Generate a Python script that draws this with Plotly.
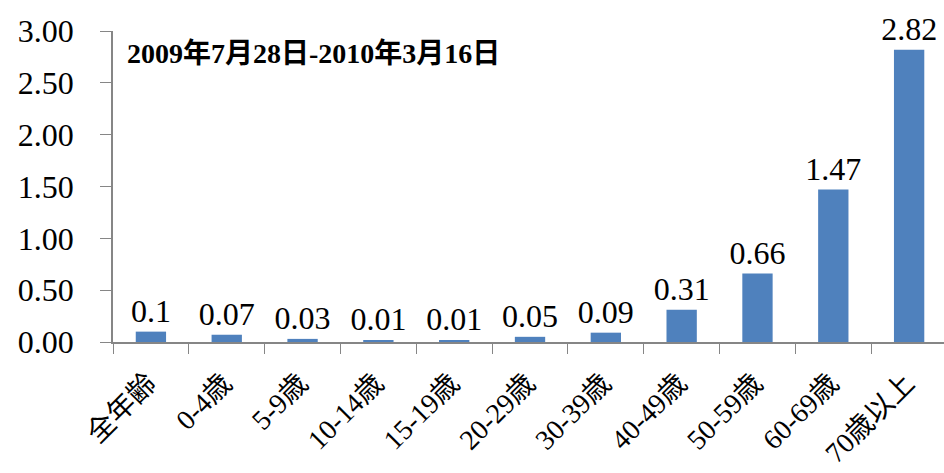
import plotly.graph_objects as go

categories = ["全年齢", "0-4歳", "5-9歳", "10-14歳", "15-19歳", "20-29歳",
              "30-39歳", "40-49歳", "50-59歳", "60-69歳", "70歳以上"]
values = [0.1, 0.07, 0.03, 0.01, 0.01, 0.05, 0.09, 0.31, 0.66, 1.47, 2.82]
value_labels = ["0.1", "0.07", "0.03", "0.01", "0.01", "0.05", "0.09",
                "0.31", "0.66", "1.47", "2.82"]
y_ticks = [0, 0.5, 1.0, 1.5, 2.0, 2.5, 3.0]
y_tick_labels = ["0.00", "0.50", "1.00", "1.50", "2.00", "2.50", "3.00"]
period_note = "2009年7月28日-2010年3月16日"

FONT = "Liberation Serif, Noto Sans CJK JP, serif"
AXIS_COLOR = "#868686"

fig = go.Figure()
fig.add_trace(go.Bar(
    x=categories, y=values,
    text=value_labels, textposition="outside", constraintext="none",
    textfont=dict(family=FONT, size=32, color="#000000"),
    marker=dict(color="#4F81BD", line=dict(width=0)),
    width=0.4, cliponaxis=False, hoverinfo="skip",
))

fig.update_layout(
    width=944, height=473,
    margin=dict(l=113, r=0, t=31, b=131, autoexpand=False),
    plot_bgcolor="white", paper_bgcolor="white",
    showlegend=False,
    font=dict(family=FONT, color="#000000"),
    xaxis=dict(
        range=[-0.5, 10.46], showline=True, linecolor=AXIS_COLOR, linewidth=1.5,
        ticks="outside", tickson="boundaries", ticklen=10, tickcolor=AXIS_COLOR,
        tickangle=-45, tickfont=dict(family=FONT, size=28, color="#000000"),
        showgrid=False, zeroline=False, ticklabelstandoff=12, ticklabelshift=-3,
        automargin=False,
    ),
    yaxis=dict(
        range=[0, 3.0], showline=True, linecolor=AXIS_COLOR, linewidth=1.5,
        ticks="outside", ticklen=11, tickcolor=AXIS_COLOR,
        tickvals=y_ticks, ticktext=y_tick_labels,
        tickfont=dict(family=FONT, size=32, color="#000000"),
        showgrid=False, zeroline=False, ticklabelstandoff=20, automargin=False,
    ),
    annotations=[dict(
        text="<b>" + period_note + "</b>", xref="paper", yref="paper",
        x=0.015, y=0.929, xanchor="left", yanchor="middle", showarrow=False,
        font=dict(family=FONT, size=28, color="#000000"),
    )],
)

fig.write_html(
    "out.html",
    config={"displayModeBar": False},
    post_script="document.body.style.margin='0';document.body.style.overflow='hidden';",
)
